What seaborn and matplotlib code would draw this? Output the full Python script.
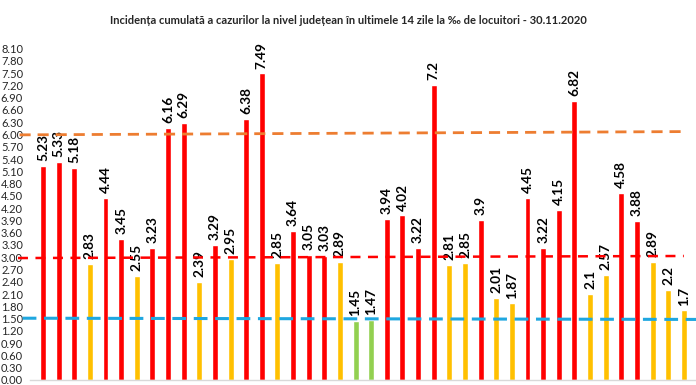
import numpy as np
import pandas as pd
import matplotlib
matplotlib.use('Agg')
import matplotlib.pyplot as plt
import seaborn as sns

# incidence values per county, left to right
values = [5.23, 5.33, 5.18, 2.83, 4.44, 3.45, 2.55, 3.23, 6.16, 6.29,
          2.39, 3.29, 2.95, 6.38, 7.49, 2.85, 3.64, 3.05, 3.03, 2.89,
          1.45, 1.47, 3.94, 4.02, 3.22, 7.2, 2.81, 2.85, 3.9, 2.01,
          1.87, 4.45, 3.22, 4.15, 6.82, 2.1, 2.57, 4.58, 3.88, 2.89,
          2.2, 1.7]
labels = ['5.23', '5.33', '5.18', '2.83', '4.44', '3.45', '2.55', '3.23', '6.16', '6.29',
          '2.39', '3.29', '2.95', '6.38', '7.49', '2.85', '3.64', '3.05', '3.03', '2.89',
          '1.45', '1.47', '3.94', '4.02', '3.22', '7.2', '2.81', '2.85', '3.9', '2.01',
          '1.87', '4.45', '3.22', '4.15', '6.82', '2.1', '2.57', '4.58', '3.88', '2.89',
          '2.2', '1.7']

# threshold lines (start value, end value)
orange_line = [5.99, 6.07]
red_line = [2.98, 3.03]
blue_line = [1.51, 1.48]

yticks = [round(0.3 * i, 2) for i in range(28)]

title = 'Incidența cumulată a cazurilor la nivel județean în ultimele 14 zile la ‰ de locuitori - 30.11.2020'


def level(v):
    if v > 3:
        return 'rosu'
    elif v >= 1.5:
        return 'galben'
    return 'verde'


df = pd.DataFrame({'pos': [str(i) for i in range(len(values))], 'value': values})
df['level'] = df['value'].apply(level)

sns.set_style('white')
plt.rcParams['font.family'] = ['Lato', 'DejaVu Sans']

fig = plt.figure(figsize=(6.96, 3.85), dpi=100)
ax = fig.add_axes([30 / 696, 5 / 385, 666 / 696, 345 / 385])

sns.barplot(data=df, x='pos', y='value', hue='level',
            palette={'rosu': '#FF0000', 'galben': '#FFC000', 'verde': '#92D050'},
            dodge=False, width=0.38, legend=False, ax=ax, saturation=1)

for i, (v, t) in enumerate(zip(values, labels)):
    ax.text(i, v + 0.12, t, rotation=90, ha='center', va='bottom',
            fontsize=9.8, fontweight='bold', color='black')

ax.plot([-1.5, 41.0], orange_line, color='#ED7D31', lw=2, dashes=(4, 2.5), clip_on=False, zorder=3)
ax.plot([-1.6, 41.0], red_line, color='#FF0000', lw=1.8, dashes=(4, 3), clip_on=False, zorder=3)
ax.plot([-1.3, 41.8], blue_line, color='#1FA7E0', lw=2.2, dashes=(4.5, 2.5), clip_on=False, zorder=3)

ax.set_xlim(-0.83, 41.78)
ax.set_ylim(0, 8.43)
ax.set_yticks(yticks)
ax.set_yticklabels(['%.2f' % y for y in yticks], fontsize=8)
ax.tick_params(axis='y', length=0, pad=5)
ax.set_xticks([])
ax.set_xlabel('')
ax.set_ylabel('')
for s in ['top', 'right', 'left']:
    ax.spines[s].set_visible(False)
ax.spines['bottom'].set_color('#D9D9D9')
ax.spines['bottom'].set_linewidth(1)

fig.text(0.5, 1 - 20 / 385, title, ha='center', va='center', fontsize=8, fontweight='bold')

fig.savefig('out.png', dpi=100)
